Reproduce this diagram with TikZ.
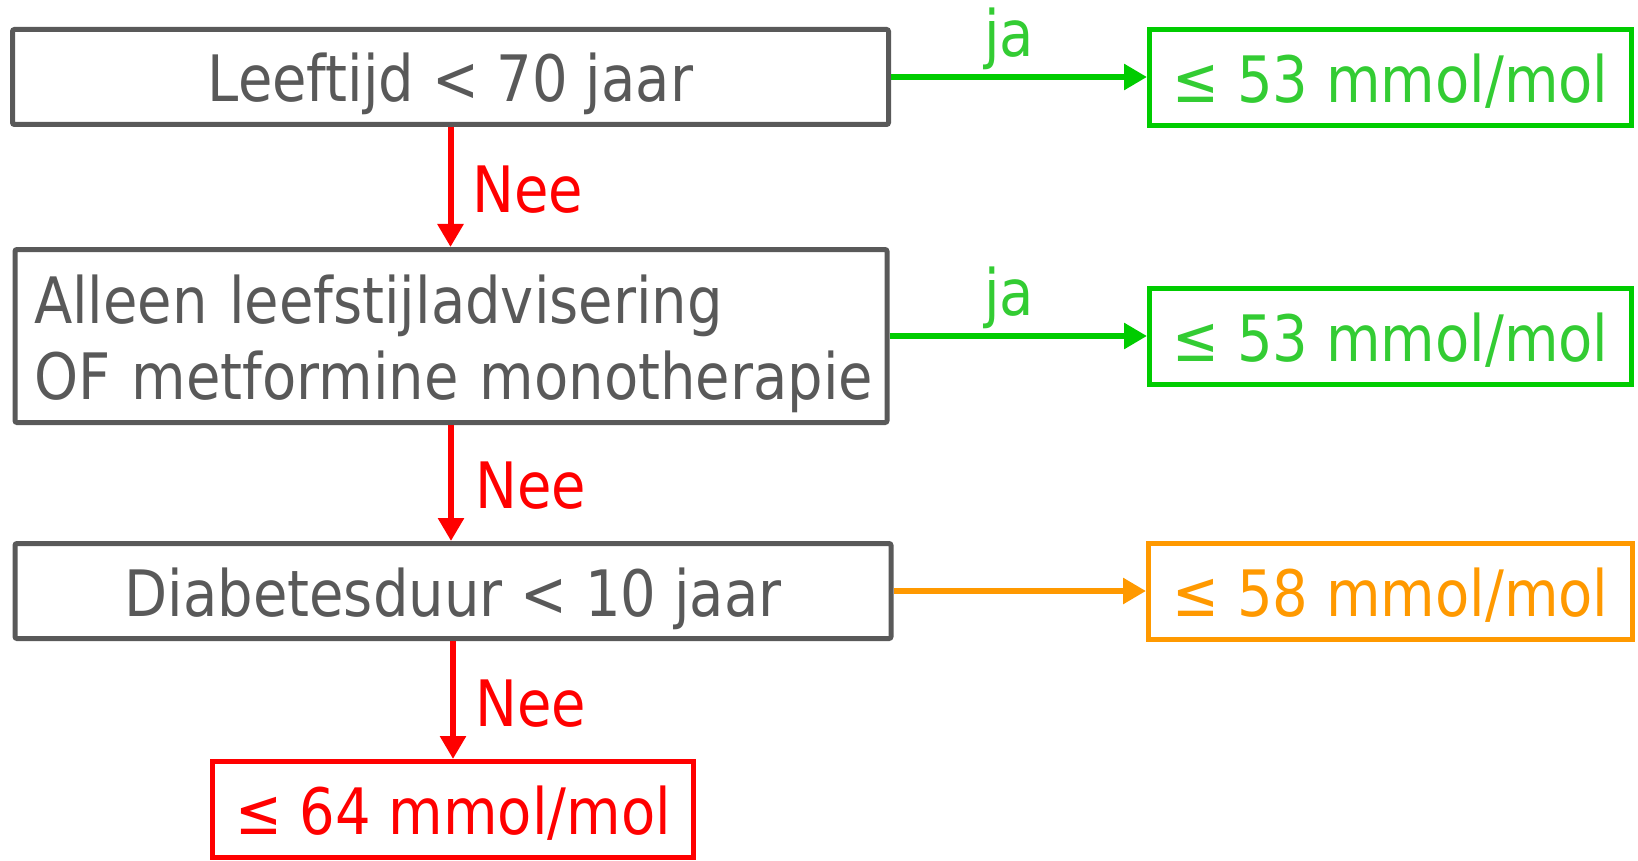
\documentclass[tikz,border=0pt]{standalone}
\usepackage{fontspec}
\setmainfont{DejaVu Sans}[FakeStretch=0.875]
\usetikzlibrary{arrows.meta}
\definecolor{boxgray}{RGB}{89,89,89}
\definecolor{okgreen}{RGB}{0,204,0}
\definecolor{oktext}{RGB}{51,204,51}
\definecolor{midorange}{RGB}{255,153,0}
\definecolor{alertred}{RGB}{255,0,0}

\begin{document}
\begin{tikzpicture}[x=1pt,y=-1pt,
  every node/.style={font=\fontsize{64}{76}\selectfont, inner sep=0pt},
  decision/.style={draw=boxgray, text=boxgray, line width=5pt, rounded corners=2pt,
    minimum height=95pt, text height=50pt, text depth=0pt},
  target/.style={draw=#1, text=#1, line width=5pt, minimum width=482pt,
    minimum height=96pt, text height=50pt, text depth=0pt},
  flow/.style={line width=6pt, -{Triangle[length=23pt,width=25pt]}},
  answer/.style={anchor=base west}
]
\useasboundingbox (0,0) rectangle (1638,861);

% decision boxes in the left column
\node[decision, minimum width=876pt] (age) at (450.5,77) {Leeftijd < 70 jaar};
\node[decision, minimum height=173pt, text width=834pt, inner xsep=19pt,
      align=left, text depth=76pt] (therapy) at (451,336)
  {\mbox{Alleen leefstijladvisering}\\\mbox{OF metformine monotherapie}};
\node[decision, minimum width=876pt] (duration) at (453,591) {Diabetesduur < 10 jaar};

% HbA1c targets
\node[target=okgreen, text=oktext] (goalA) at (1390.5,77.5) {≤ 53 mmol/mol};
\node[target=okgreen, text=oktext] (goalB) at (1390.5,336) {≤ 53 mmol/mol};
\node[target=midorange, minimum width=484pt] (goalC) at (1390.5,591.5) {≤ 58 mmol/mol};
\node[target=alertred, minimum width=481pt] (goalD) at (453,809.5) {≤ 64 mmol/mol};

% connectors
\draw[flow, okgreen] (age.east) -- (age.east -| goalA.west);
\draw[flow, okgreen] (therapy.east) -- (therapy.east -| goalB.west);
\draw[flow, midorange] (duration.east) -- (duration.east -| goalC.west);
\draw[flow, alertred] (age.south) -- (age.south |- therapy.north);
\draw[flow, alertred] (therapy.south) -- (therapy.south |- duration.north);
\draw[flow, alertred] (duration.south) -- (duration.south |- goalD.north);

% branch labels
\node[answer, text=oktext] (yesA) at (984,57) {ja};
\node[answer, text=oktext] (yesB) at (984,315) {ja};
\node[answer, text=alertred] (noA) at (472,212) {Nee};
\node[answer, text=alertred] (noB) at (475,508) {Nee};
\node[answer, text=alertred] (noC) at (475,726) {Nee};
\end{tikzpicture}
\end{document}
